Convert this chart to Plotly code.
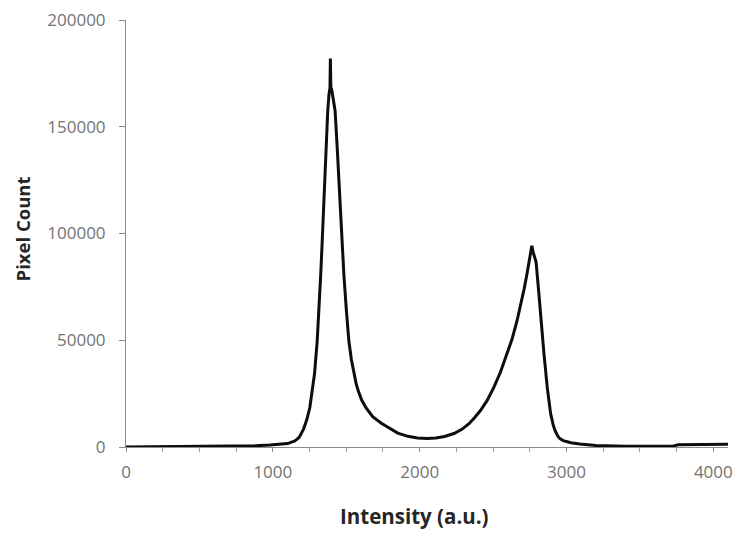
import plotly.graph_objects as go

intensity = [0, 200, 400, 600, 750, 880, 980, 1050, 1100, 1150, 1180, 1210, 1232, 1252,
             1266, 1284, 1302, 1316, 1326, 1336, 1345, 1353, 1363, 1374, 1383, 1389,
             1392, 1395, 1402, 1412, 1424, 1437, 1448, 1459, 1471, 1484, 1500, 1518,
             1535, 1552, 1567, 1581, 1605, 1633, 1680, 1739, 1800, 1851, 1920, 1986,
             2050, 2110, 2170, 2234, 2290, 2336, 2375, 2414, 2460, 2505, 2550, 2595,
             2630, 2662, 2690, 2712, 2730, 2745, 2756, 2764, 2772, 2780, 2793, 2809,
             2826, 2847, 2869, 2892, 2910, 2921, 2940, 2955, 2978, 3030, 3090, 3200,
             3400, 3600, 3720, 3760, 3850, 3950, 4050, 4100]
pixel_count = [0, 100, 150, 250, 400, 600, 900, 1200, 1600, 2800, 4600, 8500, 13000, 18500,
               24900, 34300, 49500, 64800, 80600, 95800, 111100, 126900, 142100, 157500, 165500, 168000,
               182000, 168500, 167000, 163500, 157500, 142100, 126900, 111100, 95800, 80600, 64800, 49500,
               41000, 34300, 29800, 26400, 22000, 18500, 14200, 11100, 8500, 6500, 5000, 4200,
               4000, 4200, 4900, 6300, 8400, 10900, 13800, 17100, 21800, 27900, 35000, 43400,
               50700, 58800, 66800, 74200, 80700, 86600, 90800, 94300, 91500, 89500, 86600, 74200,
               58800, 43400, 27900, 15600, 10200, 7900, 5200, 3900, 3000, 2000, 1400, 700,
               350, 250, 300, 1000, 1100, 1150, 1200, 1250]

x_ticks = [0, 1000, 2000, 3000, 4000]
y_ticks = [0, 50000, 100000, 150000, 200000]

fig = go.Figure()
fig.add_trace(go.Scatter(x=intensity, y=pixel_count, mode="lines",
                         line=dict(color="#0d0d0d", width=3),
                         showlegend=False, hoverinfo="x+y"))

tickfont = dict(family="Open Sans", size=17, color="#737373")
fig.update_layout(
    width=741, height=536,
    margin=dict(l=126, r=8, t=15, b=89),
    paper_bgcolor="white", plot_bgcolor="white",
    showlegend=False,
    xaxis=dict(range=[0, 4100], tickvals=x_ticks, ticktext=[str(v) for v in x_ticks],
               showgrid=False, zeroline=False, showline=True, linecolor="#8c8c8c", linewidth=1,
               ticks="outside", ticklen=4, tickcolor="#8c8c8c", tickfont=tickfont,
               ticklabelstandoff=6,
               minor=dict(dtick=250, tick0=0, ticks="outside", ticklen=4, tickcolor="#a0a0a0")),
    yaxis=dict(range=[0, 200000], tickvals=y_ticks, ticktext=[str(v) for v in y_ticks],
               showgrid=False, zeroline=False, showline=True, linecolor="#8c8c8c", linewidth=1,
               ticks="outside", ticklen=6, tickcolor="#8c8c8c", tickfont=tickfont,
               ticklabelstandoff=10),
    annotations=[
        dict(text="<b>Intensity (a.u.)</b>", xref="paper", yref="paper", x=(417 - 126) / (733 - 126),
             y=-(517 - 447) / 432, xanchor="center", yanchor="middle", showarrow=False,
             font=dict(family="Open Sans", size=20.5, color="#262626")),
        dict(text="<b>Pixel Count</b>", xref="paper", yref="paper", x=-(126 - 22) / (733 - 126),
             y=(447 - 226) / 432, xanchor="center", yanchor="middle", showarrow=False, textangle=-90,
             font=dict(family="Open Sans", size=18.5, color="#262626")),
    ],
)

fig.write_html("out.html")
